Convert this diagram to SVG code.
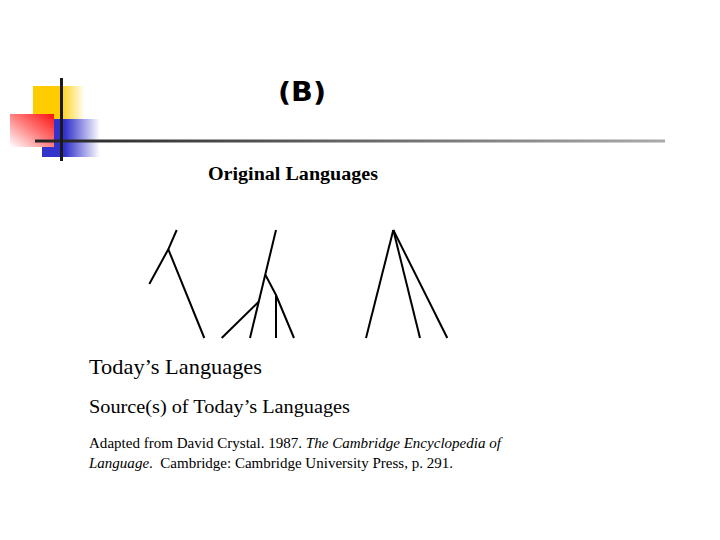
<svg xmlns="http://www.w3.org/2000/svg" width="720" height="540" viewBox="0 0 720 540">
<defs>
<linearGradient id="gy" x1="0" y1="0" x2="1" y2="0"><stop offset="0.5" stop-color="#ffcc00"/><stop offset="1" stop-color="#ffcc00" stop-opacity="0"/></linearGradient>
<linearGradient id="gb" x1="0" y1="0" x2="1" y2="0"><stop offset="0.4" stop-color="#3333cc"/><stop offset="1" stop-color="#3333cc" stop-opacity="0"/></linearGradient>
<linearGradient id="gr" x1="1" y1="0" x2="0" y2="1"><stop offset="0" stop-color="#ff1010"/><stop offset="0.5" stop-color="#ff8080"/><stop offset="1" stop-color="#ffffff"/></linearGradient>
<linearGradient id="gl" gradientUnits="userSpaceOnUse" x1="35" y1="0" x2="665" y2="0"><stop offset="0" stop-color="#222"/><stop offset="1" stop-color="#aaa"/></linearGradient>
<style>
.t{stroke:#000;stroke-width:2;fill:none}
.serif{font-family:"Liberation Serif","Times New Roman",serif;fill:#000}
</style>
</defs>
<g id="logo">
<rect x="33" y="86" width="52" height="33" fill="url(#gy)"/>
<rect x="42" y="119" width="58" height="38" fill="url(#gb)"/>
<rect x="10" y="114" width="44" height="33" fill="url(#gr)"/>
<rect x="35" y="139.5" width="630" height="3" fill="url(#gl)"/>
<line x1="61.5" y1="78" x2="61.5" y2="161" stroke="#1a1a1a" stroke-width="3"/>
</g>
<g id="title"><text x="278" y="101" font-family="'DejaVu Sans',Verdana,sans-serif" font-weight="bold" font-size="26" textLength="48" lengthAdjust="spacingAndGlyphs">(B)</text></g>
<g id="original"><text class="serif" x="208" y="180" font-weight="bold" font-size="18" textLength="170" lengthAdjust="spacingAndGlyphs">Original Languages</text></g>
<g id="connectors">
<polyline class="t" points="176.7,230 168.3,249.3 149.3,284"/>
<line class="t" x1="168.3" y1="249.3" x2="204.3" y2="338"/>
<line class="t" x1="276" y1="230" x2="250" y2="338"/>
<line class="t" x1="258.7" y1="301.7" x2="221.7" y2="338" stroke-width="2.5"/>
<polyline class="t" points="265.5,275 276,295 294,338"/>
<line class="t" x1="276" y1="295" x2="276" y2="338"/>
<line class="t" x1="393.3" y1="230" x2="366" y2="338"/>
<line class="t" x1="393.3" y1="230" x2="420" y2="338"/>
<line class="t" x1="393.3" y1="230" x2="447.3" y2="338"/>
</g>
<g id="today"><text class="serif" x="89" y="374" font-size="21" textLength="173" lengthAdjust="spacingAndGlyphs">Today’s Languages</text></g>
<g id="source"><text class="serif" x="89" y="413" font-size="19" textLength="261" lengthAdjust="spacingAndGlyphs">Source(s) of Today’s Languages</text></g>
<g id="citation">
<text class="serif" x="89" y="448" font-size="14.5" textLength="412" lengthAdjust="spacingAndGlyphs">Adapted from David Crystal. 1987. <tspan font-style="italic">The Cambridge Encyclopedia of</tspan></text>
<text class="serif" x="89" y="468" font-size="14.5" textLength="364" lengthAdjust="spacingAndGlyphs" xml:space="preserve"><tspan font-style="italic">Language</tspan>.  Cambridge: Cambridge University Press, p. 291.</text>
</g>
</svg>
